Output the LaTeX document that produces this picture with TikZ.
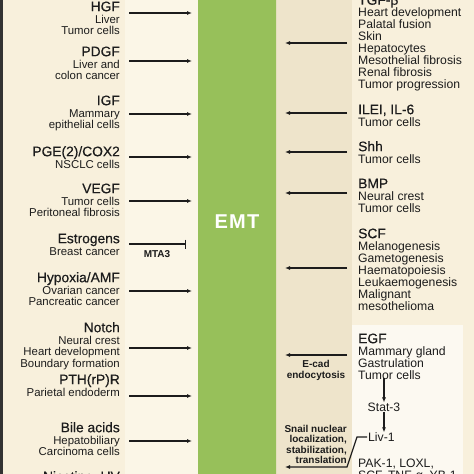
\documentclass[tikz,border=0pt]{standalone}
\usepackage{fontspec}
\setmainfont{Liberation Sans}
\newfontfamily\medfont[FakeBold=0.4]{Liberation Sans}
\usetikzlibrary{arrows.meta}
\definecolor{ink}{HTML}{1C1C1C}
\definecolor{creamA}{HTML}{F8F0DC}
\definecolor{creamB}{HTML}{FBF6E7}
\definecolor{tan}{HTML}{EEE4CB}
\definecolor{paleBox}{HTML}{FCF9F1}
\definecolor{gEdge}{HTML}{6E9B3C}
\definecolor{gHi}{HTML}{AED573}
\definecolor{gMain}{HTML}{97C05A}
\definecolor{gDark}{HTML}{86B04A}
\pgfdeclarehorizontalshading{emtbar}{100bp}{color(0bp)=(gEdge); color(1.5bp)=(gEdge);
  color(3bp)=(gMain); color(8bp)=(gHi); color(16bp)=(gMain); color(80bp)=(gMain);
  color(92bp)=(gDark); color(98.5bp)=(gDark); color(100bp)=(gEdge)}
\newcommand{\ttl}[1]{{\medfont\fontsize{13.8}{11.8}\selectfont\rule{0pt}{10pt}#1}}
\tikzset{
  lgrp/.style={anchor=north east, align=right, inner sep=0pt, text=ink,
    font=\fontsize{11.4}{11.8}\selectfont},
  rgrp/.style={anchor=north west, align=left, inner sep=0pt, text=ink,
    font=\fontsize{12.2}{12}\selectfont},
  bnote/.style={inner sep=0pt, text=ink, font=\bfseries\fontsize{10}{10.3}\selectfont},
  sig/.style={draw=ink, line width=1.2pt, -{Latex[length=5pt,width=4pt]}},
  inh/.style={draw=ink, line width=1.2pt, -{Bar[width=9pt,line width=1.2pt]}}
}
\begin{document}
\begin{tikzpicture}[x=1pt,y=-1pt]
\useasboundingbox (0,0) rectangle (474,474);
\clip (0,0) rectangle (474,474);
% background bands
\fill[creamA] (0,0) rectangle (474,474);
\fill[creamB] (125,0) rectangle (198,474);
\fill[tan] (276,0) rectangle (352,474);
\fill[paleBox] (352,325) rectangle (463,474);
\fill[ink!90] (0,0) rectangle (3,474);
% EMT bar
\node[shade, shading=emtbar, minimum width=78pt, minimum height=480pt, inner sep=0pt] (bar) at (237,237) {};
\node[text=white, font=\bfseries\fontsize{20}{20}\selectfont\addfontfeature{LetterSpace=6}] (emt) at (237,222) {EMT};
\coordinate (barL) at (192,0);
\coordinate (barI) at (186,0);
\coordinate (barR) at (285,0);

% left side
\node[lgrp] (hgf) at (120,1) {\ttl{HGF}\\Liver\\Tumor cells};
\node[lgrp] (pdgf) at (120,46) {\ttl{PDGF}\\Liver and\\colon cancer};
\node[lgrp] (igf) at (120,95) {\ttl{IGF}\\Mammary\\epithelial cells};
\node[lgrp] (pge) at (120,146) {\ttl{PGE(2)/COX2}\\NSCLC cells};
\node[lgrp] (vegf) at (120,183) {\ttl{VEGF}\\Tumor cells\\Peritoneal fibrosis};
\node[lgrp] (estro) at (120,233) {\ttl{Estrogens}\\Breast cancer};
\node[lgrp] (hyp) at (120,272) {\ttl{Hypoxia/AMF}\\Ovarian cancer\\Pancreatic cancer};
\node[lgrp] (notch) at (120,322) {\ttl{Notch}\\Neural crest\\Heart development\\Boundary formation};
\node[lgrp] (pth) at (120,374) {\ttl{PTH(rP)R}\\Parietal endoderm};
\node[lgrp] (bile) at (120,422) {\ttl{Bile acids}\\Hepatobiliary\\Carcinoma cells};
\node[lgrp] (nic) at (120,471) {\ttl{Nicotine, UV}};

\coordinate (hgf-a) at (129,13);
\coordinate (pdgf-a) at (129,61);
\coordinate (igf-a) at (129,114);
\coordinate (pge-a) at (129,157);
\coordinate (vegf-a) at (129,201);
\coordinate (estro-a) at (129,244);
\coordinate (hyp-a) at (129,291);
\coordinate (notch-a) at (129,348);
\coordinate (pth-a) at (129,396);
\coordinate (bile-a) at (129,441);
\draw[sig] (hgf-a) -- (hgf-a -| barL);
\draw[sig] (pdgf-a) -- (pdgf-a -| barL);
\draw[sig] (igf-a) -- (igf-a -| barL);
\draw[sig] (pge-a) -- (pge-a -| barL);
\draw[sig] (vegf-a) -- (vegf-a -| barL);
\draw[inh] (estro-a) -- (estro-a -| barI);
\node[bnote] (mta) at (157,254) {MTA3};
\draw[sig] (hyp-a) -- (hyp-a -| barL);
\draw[sig] (notch-a) -- (notch-a -| barL);
\draw[sig] (pth-a) -- (pth-a -| barL);
\draw[sig] (bile-a) -- (bile-a -| barL);

% right side
\node[rgrp] (tgf) at (358,-5.5) {\ttl{TGF-β}\\Heart development\\Palatal fusion\\Skin\\Hepatocytes\\Mesothelial fibrosis\\Renal fibrosis\\Tumor progression};
\node[rgrp] (ilei) at (358,104) {\ttl{ILEI, IL-6}\\Tumor cells};
\node[rgrp] (shh) at (358,141) {\ttl{Shh}\\Tumor cells};
\node[rgrp] (bmp) at (358,178) {\ttl{BMP}\\Neural crest\\Tumor cells};
\node[rgrp] (scf) at (358,228) {\ttl{SCF}\\Melanogenesis\\Gametogenesis\\Haematopoiesis\\Leukaemogenesis\\Malignant\\mesothelioma};
\node[rgrp] (egf) at (358,333) {\ttl{EGF}\\Mammary gland\\Gastrulation\\Tumor cells};
\node[inner sep=0pt, text=ink, font=\fontsize{12.2}{12}\selectfont] (stat) at (384,407) {Stat-3};
\node[anchor=west, inner sep=0pt, text=ink, font=\fontsize{12.2}{12}\selectfont] (liv) at (368,437) {Liv-1};
\node[rgrp] (pak) at (358,457) {\rule{0pt}{10pt}PAK-1, LOXL,\\SCF, TNF-α, YB-1};
\node[bnote, anchor=north, align=center] (ecad) at (316,360.5) {\rule{0pt}{7pt}E-cad\\endocytosis};
\node[bnote, anchor=north east, align=right] (snail) at (347,425) {\rule{0pt}{7pt}Snail nuclear\\localization,\\stabilization,\\translation};

\coordinate (tgf-a) at (347,43);
\coordinate (ilei-a) at (347,113);
\coordinate (shh-a) at (347,152);
\coordinate (bmp-a) at (347,193);
\coordinate (scf-a) at (347,268);
\coordinate (egf-a) at (347,355);
\coordinate (kink) at (357,437);
\coordinate (snail-a) at (347,467);
\draw[sig] (tgf-a) -- (tgf-a -| barR);
\draw[sig] (ilei-a) -- (ilei-a -| barR);
\draw[sig] (shh-a) -- (shh-a -| barR);
\draw[sig] (bmp-a) -- (bmp-a -| barR);
\draw[sig] (scf-a) -- (scf-a -| barR);
\draw[sig] (egf-a) -- (egf-a -| barR);
\draw[sig] ([xshift=-1pt]liv.west) -- (kink) -- (snail-a) -- (snail-a -| barR);
% EGF cascade
\draw[sig] ([yshift=2pt]egf.south -| stat) -- (stat.north);
\draw[sig] (stat.south) -- (stat |- liv.north);
\end{tikzpicture}
\end{document}
